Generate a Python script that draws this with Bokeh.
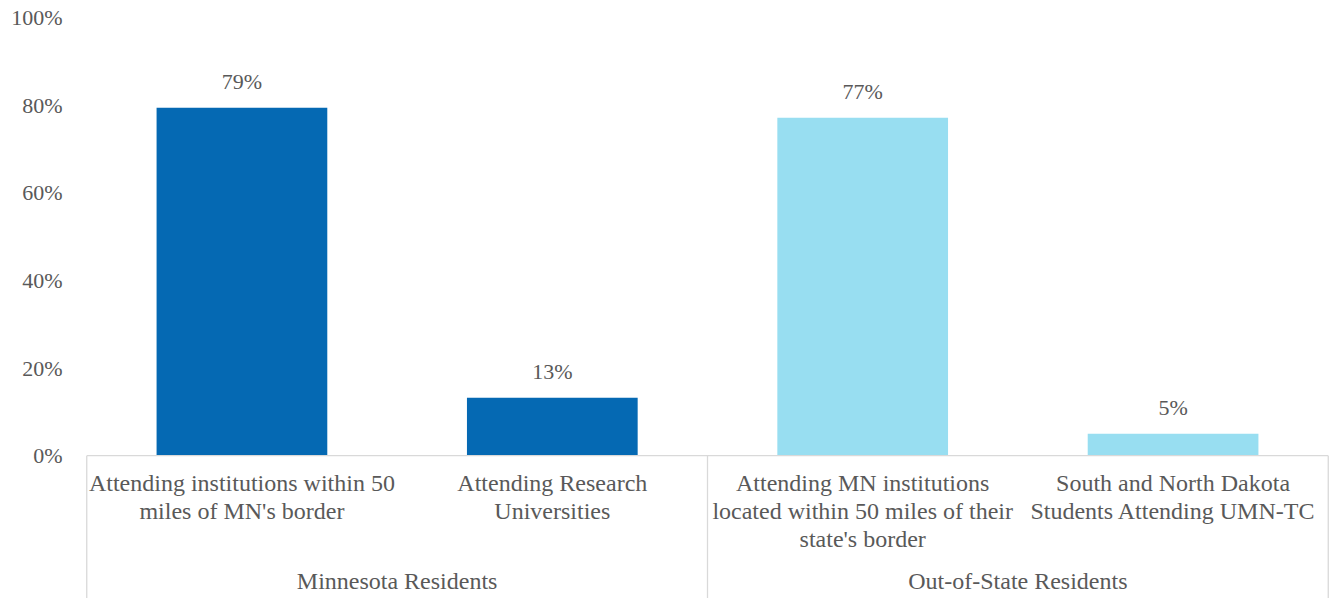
from bokeh.plotting import figure
from bokeh.models import ColumnDataSource, FactorRange, Range1d, FixedTicker, PrintfTickFormatter
from bokeh.core.properties import value
from bokeh.embed import file_html
from bokeh.resources import INLINE

# ---- data ----
categories = [
    "Attending institutions within 50\nmiles of MN's border",
    "Attending Research\nUniversities",
    "Attending MN institutions\nlocated within 50 miles of their\nstate's border",
    "South and North Dakota\nStudents Attending UMN-TC",
]
groups = ["Minnesota Residents", "Minnesota Residents",
          "Out-of-State Residents", "Out-of-State Residents"]
values = [79.4, 13.2, 77.1, 5.0]
bar_labels = ["79%", "13%", "77%", "5%"]
group_colors = {"Minnesota Residents": "#0569B3", "Out-of-State Residents": "#98DEF1"}
y_ticks = [0, 20, 40, 60, 80, 100]

FONT = "Liberation Serif"
TXT = "#595959"
GRID = "#D9D9D9"

colors = [group_colors[g] for g in groups]
src = ColumnDataSource(dict(cat=categories, val=values, lab=bar_labels, color=colors))

y_bottom = -32.6
p = figure(
    x_range=FactorRange(*categories, range_padding=0.004, range_padding_units="absolute"),
    y_range=Range1d(y_bottom, 100),
    width=1330, height=598,
    output_backend="svg", toolbar_location=None,
    x_axis_location=None,
    min_border_left=85, min_border_right=1, min_border_top=17, min_border_bottom=0,
)
p.outline_line_color = None
p.grid.visible = False
p.background_fill_color = "white"
p.border_fill_color = "white"

ax = p.yaxis[0]
ax.ticker = FixedTicker(ticks=y_ticks)
ax.formatter = PrintfTickFormatter(format="%d%%")
ax.axis_line_color = None
ax.major_tick_line_color = None
ax.minor_tick_line_color = None
ax.major_tick_out = 0
ax.major_tick_in = 0
ax.major_label_standoff = 23
ax.major_label_text_font = FONT
ax.major_label_text_font_size = "22px"
ax.major_label_text_color = TXT

# bars
p.vbar(x="cat", top="val", width=0.55, source=src, fill_color="color", line_color=None)

# value labels
p.text(x="cat", y="val", text="lab", source=src, text_align="center",
       text_baseline="alphabetic", y_offset=-26,
       text_font=value(FONT), text_font_size="22px", text_color=TXT)

# horizontal category axis line at 0
n = len(categories)
p.segment(x0=[0], y0=[0], x1=[n], y1=[0], line_color=GRID, line_width=1.3)

# group separators
bounds = [0]
for i in range(1, n):
    if groups[i] != groups[i - 1]:
        bounds.append(i)
bounds.append(n)
p.segment(x0=bounds, y0=[0] * len(bounds), x1=bounds, y1=[y_bottom] * len(bounds),
          line_color=GRID, line_width=1.3)

# category labels
p.text(x=categories, y=[0] * n, text=categories, text_align="center",
       text_baseline="top", y_offset=14, text_line_height=1.08,
       text_font=value(FONT), text_font_size="24px", text_color=TXT)

# group labels
uniq = []
for g in groups:
    if g not in uniq:
        uniq.append(g)
gx = [(bounds[k] + bounds[k + 1]) / 2 for k in range(len(uniq))]
p.text(x=gx, y=[0] * len(uniq), text=uniq, text_align="center",
       text_baseline="alphabetic", y_offset=125,
       text_font=value(FONT), text_font_size="24px", text_color=TXT)

open("out.html", "w").write(file_html(p, INLINE))
